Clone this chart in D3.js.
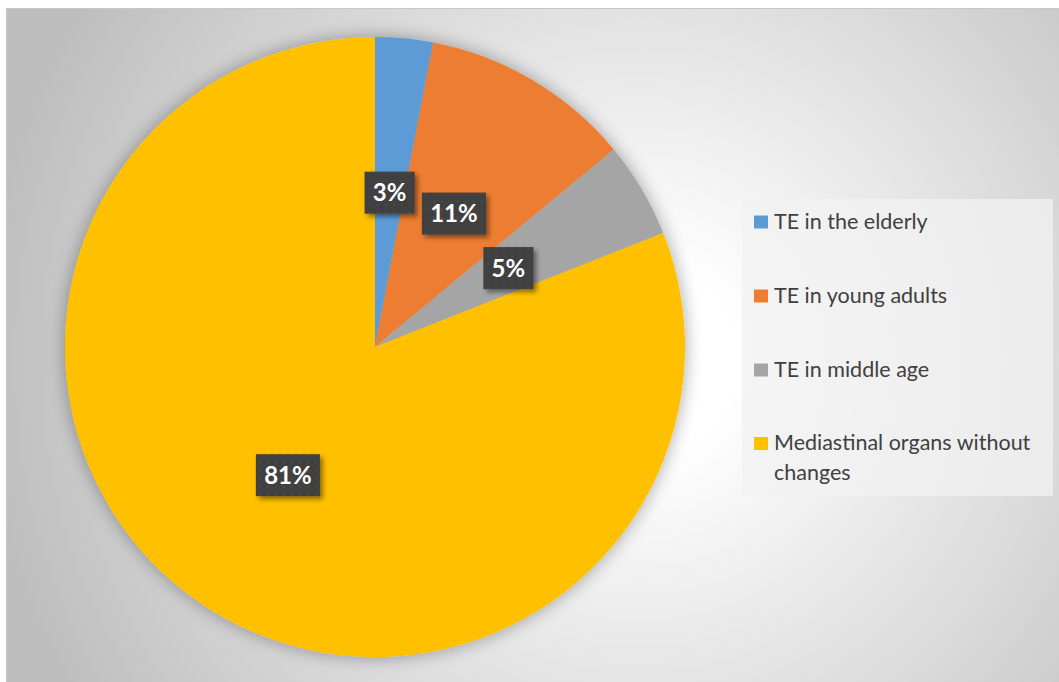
<!DOCTYPE html>
<html>
<head>
<meta charset="utf-8">
<script src="https://cdn.jsdelivr.net/npm/d3@7"></script>
<style>
  html, body { margin: 0; padding: 0; background: #ffffff; }
  svg { display: block; }
</style>
</head>
<body>
<svg id="chart" width="1059" height="682"></svg>
<script>
// Slice categories, values (%) and colours
const categories = [
  "TE in the elderly",
  "TE in young adults",
  "TE in middle age",
  "Mediastinal organs without changes"
];
const values = [3, 11, 5, 81];
const colors = ["#5b9bd5", "#ed7d31", "#a5a5a5", "#ffc000"];
const legendLines = [
  ["TE in the elderly"],
  ["TE in young adults"],
  ["TE in middle age"],
  ["Mediastinal organs without", "changes"]
];

const W = 1059, H = 682;
const svg = d3.select("#chart");
const defs = svg.append("defs");

// Chart area background: radial gradient, light centre fading to grey
const bg = defs.append("radialGradient")
  .attr("id", "bgGrad")
  .attr("gradientUnits", "userSpaceOnUse")
  .attr("cx", 640).attr("cy", 360).attr("r", 660);
bg.append("stop").attr("offset", "0%").attr("stop-color", "#ffffff");
bg.append("stop").attr("offset", "14%").attr("stop-color", "#ffffff");
bg.append("stop").attr("offset", "100%").attr("stop-color", "#bebebe");

// Soft shadow around the pie
const pieShadow = defs.append("filter").attr("id", "pieShadow")
  .attr("x", "-20%").attr("y", "-20%").attr("width", "140%").attr("height", "140%");
pieShadow.append("feGaussianBlur").attr("in", "SourceAlpha").attr("stdDeviation", 9).attr("result", "b");
pieShadow.append("feOffset").attr("in", "b").attr("dx", 0).attr("dy", 0).attr("result", "o");
pieShadow.append("feComponentTransfer").attr("in", "o").attr("result", "s")
  .append("feFuncA").attr("type", "linear").attr("slope", 0.35);
const pm = pieShadow.append("feMerge");
pm.append("feMergeNode").attr("in", "s");
pm.append("feMergeNode").attr("in", "SourceGraphic");

// Shadow for the data label boxes
const lblShadow = defs.append("filter").attr("id", "lblShadow")
  .attr("x", "-30%").attr("y", "-30%").attr("width", "170%").attr("height", "170%");
lblShadow.append("feGaussianBlur").attr("in", "SourceAlpha").attr("stdDeviation", 2.5).attr("result", "b");
lblShadow.append("feOffset").attr("in", "b").attr("dx", 3).attr("dy", 3).attr("result", "o");
lblShadow.append("feComponentTransfer").attr("in", "o").attr("result", "s")
  .append("feFuncA").attr("type", "linear").attr("slope", 0.45);
const lm = lblShadow.append("feMerge");
lm.append("feMergeNode").attr("in", "s");
lm.append("feMergeNode").attr("in", "SourceGraphic");

// Dotted texture for label boxes
const pat = defs.append("pattern").attr("id", "dots")
  .attr("patternUnits", "userSpaceOnUse").attr("width", 8).attr("height", 8);
pat.append("rect").attr("width", 8).attr("height", 8).attr("fill", "#3f3f3f");
pat.append("circle").attr("cx", 4).attr("cy", 4).attr("r", 1.1).attr("fill", "#4e4e4e");

// Frame
svg.append("rect")
  .attr("x", 6.5).attr("y", 8.5).attr("width", W - 6).attr("height", H - 8)
  .attr("fill", "url(#bgGrad)")
  .attr("stroke", "#c8c8c8").attr("stroke-width", 1);

// Pie
const cx = 375, cy = 347, R = 310;
const pie = d3.pie().sort(null).value(d => d)(values);
const arc = d3.arc().innerRadius(0).outerRadius(R);
const labelArc = d3.arc().innerRadius(R * 0.5).outerRadius(R * 0.5);

const g = svg.append("g").attr("transform", `translate(${cx},${cy})`);
g.append("g").attr("filter", "url(#pieShadow)")
  .selectAll("path").data(pie).join("path")
  .attr("d", arc)
  .attr("fill", (d, i) => colors[i]);

// Data labels
const font = "Lato, 'Open Sans', sans-serif";
const labels = g.selectAll("g.lbl").data(pie).join("g")
  .attr("class", "lbl")
  .attr("transform", d => `translate(${labelArc.centroid(d)})`);
labels.each(function(d) {
  const sel = d3.select(this);
  const txt = d.data + "%";
  const w = txt.length === 3 ? 64 : 50;
  sel.append("rect")
    .attr("x", -w / 2).attr("y", -21).attr("width", w).attr("height", 42)
    .attr("fill", "url(#dots)")
    .attr("filter", "url(#lblShadow)");
  sel.append("text")
    .attr("text-anchor", "middle")
    .attr("y", 8.5)
    .attr("fill", "#ffffff")
    .attr("font-family", font)
    .attr("font-weight", "bold")
    .attr("font-size", 24)
    .text(txt);
});

// Legend
const legend = svg.append("g");
legend.append("rect")
  .attr("x", 742).attr("y", 199).attr("width", 311).attr("height", 297)
  .attr("fill", "#f2f2f2").attr("fill-opacity", 0.75);
const rowY = [222, 296, 370, 443.5];
categories.forEach((c, i) => {
  legend.append("rect")
    .attr("x", 754).attr("y", rowY[i] - 6.5).attr("width", 14).attr("height", 13)
    .attr("fill", colors[i]);
  const t = legend.append("text")
    .attr("fill", "#404040")
    .attr("font-family", font)
    .attr("font-size", 21.5);
  legendLines[i].forEach((line, k) => {
    t.append("tspan")
      .attr("x", 774)
      .attr("y", rowY[i] + 6.5 + k * 30)
      .text(line);
  });
});
</script>
</body>
</html>
